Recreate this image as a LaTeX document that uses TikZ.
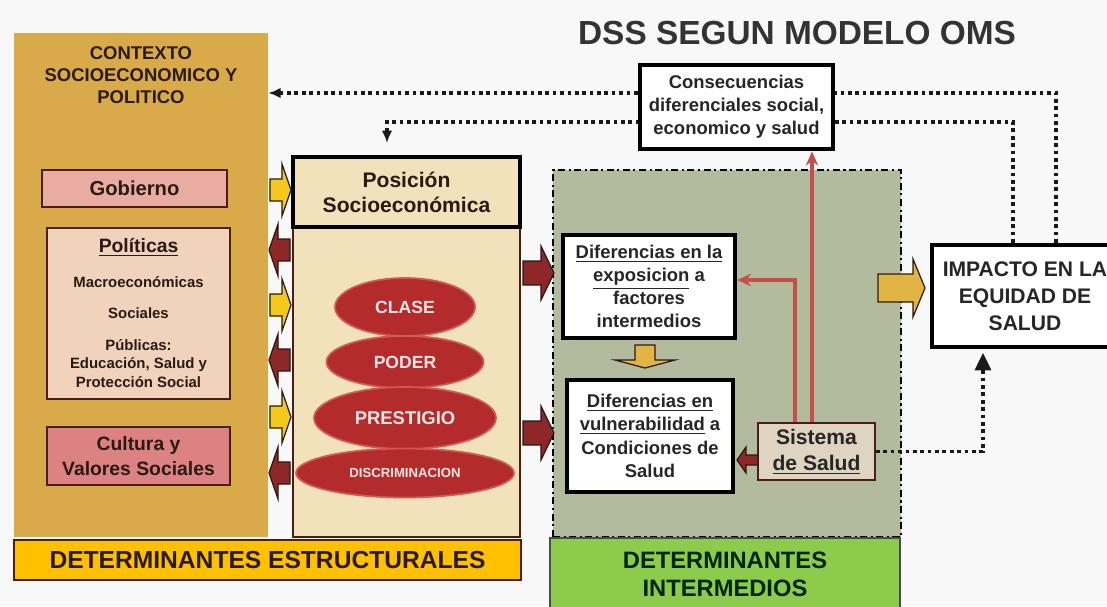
\documentclass[tikz,border=0pt]{standalone}
\usepackage{fontspec}
\setmainfont{Liberation Sans}
\usepackage{tikz}
\usetikzlibrary{positioning,shapes.geometric,arrows.meta}
\definecolor{BgGrey}{HTML}{F8F8F8}
\definecolor{CtxOrange}{HTML}{D9AA4A}
\definecolor{GobPink}{HTML}{E8ACA2}
\definecolor{PolPeach}{HTML}{F1D2BC}
\definecolor{CulRose}{HTML}{DC8282}
\definecolor{BoxBrown}{HTML}{4A1E12}
\definecolor{PosCream}{HTML}{F2E2BC}
\definecolor{ElRed}{HTML}{B32B2B}
\definecolor{ElEdge}{HTML}{CF5A55}
\definecolor{MidGreen}{HTML}{B3BB9F}
\definecolor{SisBeige}{HTML}{DED4C0}
\definecolor{ArrYellow}{HTML}{F4C81C}
\definecolor{ArrGold}{HTML}{E2B444}
\definecolor{ArrRed}{HTML}{8E2727}
\definecolor{LineRed}{HTML}{C4504C}
\definecolor{BarYellow}{HTML}{FFC000}
\definecolor{BarGreen}{HTML}{8DCB4C}
\definecolor{TxtDark}{HTML}{2A1A12}
\tikzset{
  panel/.style={rectangle,inner sep=0pt},
  redbox/.style={
    draw=BoxBrown,line width=1.2pt,inner sep=0pt,align=center,
    text=TxtDark,font=\fontsize{11}{14}\selectfont\bfseries
  },
  smalltxt/.style={
    inner sep=0pt,align=center,text=TxtDark,
    font=\fontsize{8.5}{10.5}\selectfont\bfseries
  },
  whitebox/.style={
    draw=black,fill=white,line width=2.2pt,inner sep=0pt,align=center,
    text=black!85,font=\fontsize{10.5}{13}\selectfont\bfseries
  },
  layer/.style={
    ellipse,fill=ElRed,draw=ElEdge,line width=1pt,inner sep=0pt,
    text=white!90!red,font=\fontsize{10}{12}\selectfont\bfseries
  },
  bar/.style={
    panel,align=center,text=TxtDark,
    font=\fontsize{14}{16}\selectfont\bfseries
  },
  dotline/.style={line width=2.1pt,dash pattern=on 2.1pt off 2.1pt,draw=black!90},
  redline/.style={line width=2.2pt,draw=LineRed,-{Stealth[length=8pt,width=7pt]}},
  yelarrow/.style={draw=TxtDark,line width=0.7pt,fill=ArrYellow,line join=miter},
  redarrow/.style={draw=TxtDark,line width=0.7pt,fill=ArrRed,line join=miter},
  pics/blockarr/.style args={#1/#2/#3/#4}{code={
    \path[pic actions] (0,-#3) -- (#1,-#3) -- (#1,-#4) -- (#1+#2,0)
      -- (#1,#4) -- (#1,#3) -- (0,#3) -- cycle;
  }},
}
\begin{document}
\begin{tikzpicture}[x=0.02cm,y=-0.02cm]
  \fill[BgGrey] (0,0) rectangle (1107,606);
  \useasboundingbox (0,0) rectangle (1107,606);
  \clip (0,0) rectangle (1107,606);
  \node[font=\fontsize{19}{22}\selectfont\bfseries,text=black!80] (title) at (797,33) {DSS SEGUN MODELO OMS};
  % determinantes estructurales
  \node[panel,fill=CtxOrange,minimum width=5.08cm,minimum height=10.08cm] (ctx) at (141,285) {};
  \node[font=\fontsize{10.5}{12.5}\selectfont\bfseries,text=TxtDark,align=center] (ctxlbl) at (141,75) {CONTEXTO\\SOCIOECONOMICO Y\\POLITICO};
  \node[redbox,fill=GobPink,minimum width=3.70cm,minimum height=0.74cm,font=\fontsize{11.5}{14}\selectfont\bfseries] (gob) at (134.5,188.5) {Gobierno};
  \node[redbox,fill=PolPeach,minimum width=3.66cm,minimum height=3.42cm] (pol) at (138.5,313.5) {};
  \node[smalltxt,font=\fontsize{11}{13}\selectfont\bfseries] (polhead) at (138.5,247) {\underline{Políticas}};
  \node[smalltxt] (polmacro) at (138.5,282) {Macroeconómicas};
  \node[smalltxt] (polsoc) at (138.5,313) {Sociales};
  \node[smalltxt] (polpub) at (138.5,363.5) {Públicas:\\Educación, Salud y\\Protección Social};
  \node[redbox,fill=CulRose,minimum width=3.66cm,minimum height=1.16cm] (cul) at (138.5,456) {Cultura y\\Valores Sociales};
  \node[panel,fill=PosCream,draw=BoxBrown,line width=0.8pt,minimum width=4.54cm,minimum height=7.60cm] (pos) at (406.5,347) {};
  \node[panel,draw=black,line width=1.8pt,fill=PosCream,minimum width=4.54cm,minimum height=1.40cm,align=center,text=TxtDark,font=\fontsize{12}{14.3}\selectfont\bfseries] (poshead) at (406.5,192) {Posición\\Socioeconómica};
  \node[layer,minimum width=2.80cm,minimum height=1.16cm] (clase) at (405,307) {CLASE};
  \node[layer,minimum width=3.14cm,minimum height=1.04cm] (poder) at (405,362) {PODER};
  \node[layer,minimum width=3.64cm,minimum height=1.24cm,font=\fontsize{10.5}{12}\selectfont\bfseries] (prest) at (405,418) {PRESTIGIO};
  \node[layer,minimum width=4.36cm,minimum height=0.98cm,font=\fontsize{7.5}{9}\selectfont\bfseries] (discr) at (405,473) {DISCRIMINACION};
  \pic[yelarrow] at (270,190) {blockarr=12/9/11/26};
  \pic[redarrow,rotate=180] at (290,250) {blockarr=12/9/11/26};
  \pic[yelarrow] at (270,305) {blockarr=12/9/11/26};
  \pic[redarrow,rotate=180] at (290,360) {blockarr=12/9/11/26};
  \pic[yelarrow] at (270,417) {blockarr=12/9/11/26};
  \pic[redarrow,rotate=180] at (290,473) {blockarr=12/9/11/26};
  \node[bar,fill=BarYellow,draw=BoxBrown,line width=1.2pt,minimum width=10.14cm,minimum height=0.80cm] (estr) at (267.5,560) {DETERMINANTES ESTRUCTURALES};
  % determinantes intermedios
  \node[panel,fill=MidGreen,draw=black,line width=1.6pt,dash pattern=on 4pt off 2pt on 1.2pt off 2pt,minimum width=6.96cm,minimum height=7.34cm] (mid) at (727,353.5) {};
  \node[bar,fill=BarGreen,draw=black!70,line width=1pt,minimum width=7.0cm,minimum height=1.44cm,text=black!85!green,font=\fontsize{13.5}{16}\selectfont\bfseries] (inter) at (725,574) {DETERMINANTES\\INTERMEDIOS};
  \node[whitebox,minimum width=3.44cm,minimum height=2.06cm] (expo) at (649,286.5) {\underline{Diferencias en la}\\\underline{exposicion} a\\factores\\intermedios};
  \node[whitebox,minimum width=3.32cm,minimum height=2.24cm,font=\fontsize{10.5}{13.4}\selectfont\bfseries] (vuln) at (650,436) {\underline{Diferencias en}\\\underline{vulnerabilidad} a\\Condiciones de\\Salud};
  \node[redbox,fill=SisBeige,minimum width=2.34cm,minimum height=1.14cm,text=black!85,font=\fontsize{12}{14.7}\selectfont\bfseries] (sis) at (816.5,451.5) {Sistema\\\underline{de Salud}};
  \node[whitebox,line width=2.5pt,minimum width=3.72cm,minimum height=2.04cm,font=\fontsize{12}{15.5}\selectfont\bfseries] (imp) at (1025,296) {IMPACTO EN LA\\EQUIDAD DE\\SALUD};
  \pic[redarrow] at (523,273) {blockarr=18/13/12/27};
  \pic[redarrow] at (523,433) {blockarr=18/13/12/27};
  \pic[yelarrow,fill=ArrGold,rotate=-90] at (645,345) {blockarr=15/8/10/30};
  \pic[redarrow,rotate=180] at (758,460) {blockarr=12/9/5/13};
  \pic[yelarrow,fill=ArrGold] at (878,288) {blockarr=35/12/14/29};
  % dotted feedback lines
  \coordinate (up) at (1056,93);
  \coordinate (lo) at (1013,122);
  \coordinate (lol) at (387,122);
  \coordinate (lotip) at (387,143);
  \coordinate (sr) at (983,451.5);
  \draw[dotline,-{Latex[length=7pt,width=6pt]}] (imp.north -| up) -- (up) -- (up -| ctx.east);
  \draw[dotline,-{Latex[length=7pt,width=6pt]}] (imp.north -| lo) -- (lo) -- (lol) -- (lotip);
  \draw[dotline,-{Triangle[length=10pt,width=9pt]},shorten >=2pt] (sis.east) -- (sr) -- (sr |- imp.south);
  \node[whitebox,line width=2.8pt,minimum width=3.86cm,minimum height=1.68cm] (cons) at (736.5,107) {Consecuencias\\diferenciales social,\\economico y salud};
  % sistema de salud
  \coordinate (rx) at (795,280);
  \coordinate (ry) at (812,0);
  \draw[redline] (sis.north -| rx) -- (rx) -- (rx -| expo.east);
  \draw[redline] (sis.north -| ry) -- (ry |- cons.south);
\end{tikzpicture}
\end{document}
